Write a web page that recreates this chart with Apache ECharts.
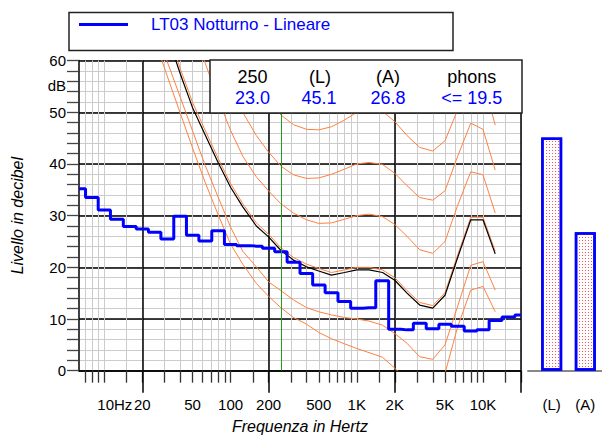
<!DOCTYPE html>
<html><head><meta charset="utf-8">
<script src="https://cdn.jsdelivr.net/npm/echarts@6/dist/echarts.min.js"></script>
<style>html,body{margin:0;padding:0;background:#fff}#c{width:602px;height:436px}</style>
</head><body><div id="c"></div>
<script>
// ---- data ----
const seriesName = 'LT03 Notturno - Lineare';
const bandFreqs = [6.3,8,10,12.5,16,20,25,31.5,40,50,63,80,100,125,160,200,250,315,400,500,630,800,1000,1250,1600,2000,2500,3150,4000,5000,6300,8000,10000,12500,16000,20000];
const bandLevels = [35.2,33.5,31.1,29.3,27.9,27.4,26.8,25.5,29.9,26.2,25.1,27.1,24.4,24.2,24.1,23.7,23.0,21.0,18.8,16.6,15.1,13.4,12.1,12.2,17.4,8.0,7.9,9.2,8.1,9.0,8.6,7.7,7.9,9.7,10.4,10.8];

const contourFreqs = [20,25,31.5,40,50,63,80,100,125,160,200,250,315,400,500,630,800,1000,1250,1600,2000,2500,3150,4000,5000,6300,8000,10000,12500];
const threshold = [72,64.2,57.0,49.8,43.1,36.4,30.1,24.5,20.6,16.9,14.4,12.2,10.3,9.0,7.4,6.2,5.2,4.3,3.5,2.6,0.5,-2.0,-4.0,-4.5,-0.5,8.5,15.6,16.3,11.4];
const phon10 = [75,66.5,59.8,52.9,46.4,39.7,33.5,27.8,23.1,20.1,17.2,15.5,13.7,12.2,11.4,10.8,10.3,10.0,9.6,8.8,7.2,5.3,2.7,2.2,5.0,12.5,20.4,21.1,15.6];
const phon20 = [81.5,73.5,66.2,58.4,51.9,46.5,41.0,36.2,32.3,28.6,26.4,23.8,21.9,20.6,19.8,19.0,19.5,20.0,20.0,19.5,18.0,15.5,13.2,12.6,15.1,22.4,29.7,29.7,23.1];
const phon30 = [95,88,81,73.5,66.5,59.5,52.5,46.5,41.5,37.5,34.8,32.3,30.5,29.2,28.5,28.6,29.3,30.0,30.3,29.8,28.3,26.0,23.4,22.7,25.0,32.0,38.5,37.9,30.5];
const phon40 = [104,97,90,83,76,69,62,55.5,50,45.5,42.3,39.6,37.9,37.2,37.3,38.0,39.0,40.0,40.3,39.9,38.2,35.8,33.5,33.0,34.8,41.5,47.9,46.7,38.8];
const phon50 = [112,105,99,92,85.5,79,72.5,66,60.5,56,52.3,49.5,47.6,46.7,46.6,47.2,48.5,50.0,50.5,50.2,48.2,45.5,43.2,42.5,44.5,50.5,57.5,56.3,47.5];
const phonMeasured = [80.5,72.5,65.0,57.4,50.9,45.6,40.2,35.5,31.7,28.0,25.9,23.3,21.4,20.1,19.3,18.5,19.0,19.5,19.5,19.0,17.5,15.0,12.7,12.1,14.6,21.9,29.2,29.2,22.6];

const highlightBand = 250;
const infoHeaders = ['250','(L)','(A)','phons'];
const infoValues = ['23.0','45.1','26.8','<= 19.5'];

const barLabels = ['(L)','(A)'];
const barValues = [45.1,26.8];

const freqMin = 6.3, freqMax = 20000;
const gridFreqs = [7,8,9,10,15,20,30,40,50,60,70,80,90,100,150,200,300,400,500,600,700,800,900,1000,1500,2000,3000,4000,5000,6000,7000,8000,9000,10000,15000,20000];
const majorFreqs = [20,200,2000,20000];
const tickLabelFreqs = [10,20,50,100,200,500,1000,2000,5000,10000];
const tickLabelTexts = ['10Hz','20','50','100','200','500','1K','2K','5K','10K'];
const unitTick = 56;

// ---- chart ----
const FONT = "'Liberation Sans', Arial, sans-serif";
const lg = Math.log10;
const toXY = (fs, vs) => fs.map((f, i) => [lg(f), vs[i]]);

const chart = echarts.init(document.getElementById('c'), null, {renderer: 'svg'});

function contour(name, vals, color, width, z) {
  return {
    name, type: 'line', xAxisIndex: 0, yAxisIndex: 0,
    data: toXY(contourFreqs, vals), showSymbol: false, symbol: 'none',
    lineStyle: {color, width}, itemStyle: {color}, z, clip: true, silent: true
  };
}
const ORANGE = '#ff8040';

const option = {
  animation: false,
  backgroundColor: '#fff',
  textStyle: {fontFamily: FONT},
  grid: [
    {left: 79, right: 81, top: 60.6, bottom: 65.3, containLabel: false, outerBoundsMode: 'none'},
    {left: 528, right: 0, top: 60.6, bottom: 65.3, containLabel: false, outerBoundsMode: 'none'}
  ],
  legend: {
    data: [seriesName], left: 79, top: 16, padding: 0,
    icon: 'rect', itemWidth: 49, itemHeight: 3, selectedMode: false,
    textStyle: {color: '#0000ff', fontSize: 17, fontFamily: FONT, padding: [0, 0, 0, 18]}
  },
  xAxis: [
    {
      gridIndex: 0, type: 'value', position: 'bottom',
      min: lg(freqMin), max: lg(freqMax),
      name: 'Frequenza in Hertz', nameLocation: 'middle', nameGap: 48,
      nameTextStyle: {fontStyle: 'italic', fontSize: 16, color: '#000', fontFamily: FONT},
      axisLine: {show: true, onZero: false, lineStyle: {color: '#000', width: 1.5}},
      axisTick: {show: true, inside: false, length: 12, customValues: gridFreqs.map(lg), lineStyle: {color: '#333', width: 1.3}},
      axisLabel: {
        show: true, margin: 26, fontSize: 15, color: '#000', fontFamily: FONT,
        customValues: tickLabelFreqs.map(lg), hideOverlap: false,
        formatter: v => {
          const i = tickLabelFreqs.findIndex(f => Math.abs(lg(f) - v) < 1e-6);
          if (i < 0) return '';
          return i === 0 ? '{hz|' + tickLabelTexts[i] + '}' : tickLabelTexts[i];
        },
        rich: {hz: {padding: [0, 0, 0, 21], fontSize: 15, color: '#000', fontFamily: FONT}}
      },
      splitLine: {show: true, lineStyle: {color: '#cccccc', width: 1}}
    },
    {
      gridIndex: 0, type: 'value', position: 'bottom',
      min: lg(freqMin), max: lg(freqMax),
      axisLine: {show: false, onZero: false},
      axisTick: {show: true, inside: false, length: 22, customValues: majorFreqs.map(lg), lineStyle: {color: '#000', width: 1.5}},
      axisLabel: {show: false},
      splitLine: {show: true, lineStyle: {color: '#000', width: 1.5}}
    },
    {
      gridIndex: 1, type: 'value', position: 'bottom',
      min: -0.705, max: 1.497,
      axisLine: {show: true, onZero: false, lineStyle: {color: '#888', width: 2}},
      axisTick: {show: false},
      splitLine: {show: false},
      axisLabel: {
        show: true, margin: 26, fontSize: 15, color: '#000', fontFamily: FONT,
        customValues: [0, 1], formatter: v => barLabels[Math.round(v)] || ''
      }
    }
  ],
  yAxis: [
    {
      gridIndex: 0, type: 'value', position: 'left', min: 0, max: 60, interval: 2,
      name: 'Livello in decibel', nameLocation: 'middle', nameGap: 54, nameRotate: 90,
      nameTextStyle: {fontStyle: 'italic', fontSize: 16, color: '#000', fontFamily: FONT},
      axisLine: {show: true, onZero: false, lineStyle: {color: '#000', width: 1.5}},
      axisTick: {show: true, inside: false, length: 12, lineStyle: {color: '#444', width: 1.3}},
      axisLabel: {
        show: true, interval: 0, margin: 13, fontSize: 15, color: '#000', fontFamily: FONT,
        formatter: v => (v % 10 === 0 ? String(v) : (v === unitTick ? '{db|dB}' : '')),
        rich: {db: {padding: [9, 0, 0, 0], fontSize: 15, color: '#000', fontFamily: FONT}}
      },
      splitLine: {show: true, lineStyle: {color: '#cccccc', width: 1}}
    },
    {
      gridIndex: 0, type: 'value', position: 'left', min: 0, max: 60, interval: 10,
      axisLine: {show: false}, axisTick: {show: false}, axisLabel: {show: false},
      splitLine: {show: true, lineStyle: {color: '#000', width: 1.5}}
    },
    {gridIndex: 1, type: 'value', min: 0, max: 60, show: false}
  ],
  series: [
    contour('Soglia', threshold, ORANGE, 1, 2),
    contour('10 phon', phon10, ORANGE, 1, 2),
    contour('20 phon', phon20, ORANGE, 1, 2),
    contour('30 phon', phon30, ORANGE, 1, 2),
    contour('40 phon', phon40, ORANGE, 1, 2),
    contour('50 phon', phon50, ORANGE, 1, 2),
    contour('19.5 phon', phonMeasured, '#000000', 1.2, 3),
    {
      name: seriesName, type: 'line', xAxisIndex: 0, yAxisIndex: 0,
      data: toXY(bandFreqs, bandLevels), step: 'middle',
      showSymbol: false, symbol: 'none', color: '#0000ff',
      lineStyle: {color: '#0000ff', width: 3}, itemStyle: {color: '#0000ff'}, z: 4,
      markLine: {
        silent: true, symbol: ['none', 'none'], label: {show: false},
        lineStyle: {color: '#229922', width: 1, type: 'solid'},
        data: [{xAxis: lg(highlightBand)}]
      }
    },
    {
      name: 'Totali', type: 'bar', xAxisIndex: 2, yAxisIndex: 2, barWidth: 21,
      data: barValues.map((v, i) => [i, v]),
      itemStyle: {
        color: '#ffffff', borderColor: '#0000ff', borderWidth: 2.5,
        decal: {symbol: 'rect', symbolSize: 1, color: '#ff5050', dashArrayX: [1, 2], dashArrayY: [1, 2], rotation: 0}
      },
      z: 2
    }
  ],
  graphic: {
    elements: [
      {type: 'rect', z: 100, shape: {x: 69, y: 12.5, width: 384, height: 38}, style: {fill: 'none', stroke: '#222', lineWidth: 1.5}},
      {type: 'rect', z: 100, shape: {x: 210, y: 60, width: 312, height: 53}, style: {fill: '#fff', stroke: '#222', lineWidth: 1.5}},
      ...infoHeaders.map((t, i) => ({
        type: 'text', z: 101, x: [252.5, 320, 388, 471.7][i], y: 77,
        style: {text: t, fill: '#000', font: '18px ' + FONT, align: 'center', verticalAlign: 'middle', textAlign: 'center', textVerticalAlign: 'middle'}
      })),
      ...infoValues.map((t, i) => ({
        type: 'text', z: 101, x: [252.5, 319, 388, 471.7][i], y: 98,
        style: {text: t, fill: '#0000ff', font: '18px ' + FONT, align: 'center', verticalAlign: 'middle', textAlign: 'center', textVerticalAlign: 'middle'}
      }))
    ]
  }
};
chart.setOption(option);
</script>
</body></html>
